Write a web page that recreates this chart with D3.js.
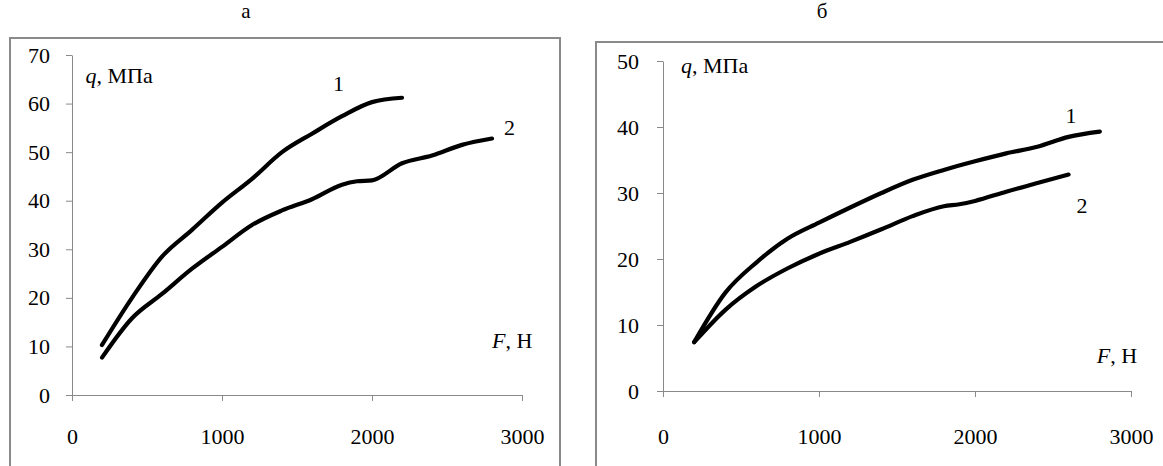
<!DOCTYPE html>
<html><head><meta charset="utf-8">
<script src="https://cdn.jsdelivr.net/npm/d3@7"></script>
<style>body{margin:0;background:#fff}svg{display:block}text{font-family:"Liberation Serif","Times New Roman",serif;fill:#000}</style>
</head><body><svg id="c" width="1163" height="466"></svg>
<script>
const xTicks = [0, 1000, 2000, 3000];
const yTicksA = [0, 10, 20, 30, 40, 50, 60, 70];
const yTicksB = [0, 10, 20, 30, 40, 50];
const titles = ["а", "б"];

const fA1 = [200, 400, 600, 800, 1000, 1200, 1400, 1600, 1800, 2000, 2200];
const qA1 = [10.3, 20, 28.5, 34, 39.6, 44.5, 50, 53.8, 57.4, 60.3, 61.2];
const fA2 = [200, 400, 600, 800, 1000, 1200, 1400, 1600, 1800, 1900, 2000, 2200, 2400, 2600, 2800];
const qA2 = [7.7, 15.8, 20.8, 26, 30.5, 35, 38, 40.3, 43.3, 44, 44.2, 47.7, 49.3, 51.5, 52.8];
const fB1 = [200, 400, 600, 800, 1000, 1200, 1400, 1600, 1800, 2000, 2200, 2400, 2600, 2800];
const qB1 = [7.4, 14.9, 19.5, 23.1, 25.5, 27.8, 30, 32, 33.5, 34.8, 36, 37, 38.5, 39.3];
const fB2 = [200, 400, 600, 800, 1000, 1200, 1400, 1600, 1800, 1900, 2000, 2200, 2400, 2600];
const qB2 = [7.4, 12.3, 15.9, 18.6, 20.8, 22.6, 24.5, 26.5, 28, 28.3, 28.8, 30.2, 31.5, 32.8];

const svg = d3.select("#c");
const FS = 22;
const FF = '"Liberation Serif","Times New Roman",serif';

function panel(cfg) {
  const g = svg.append("g");
  g.append("rect").attr("x", cfg.box[0]).attr("y", cfg.box[1]).attr("width", cfg.box[2]).attr("height", cfg.box[3])
    .attr("fill", "none").attr("stroke", "#8a8a8a").attr("stroke-width", 2);
  g.append("text").attr("x", cfg.titleX).attr("y", 18).attr("text-anchor", "middle").attr("font-size", FS - 1).text(cfg.title);
  const x = d3.scaleLinear().domain([0, 3000]).range(cfg.xr);
  const y = d3.scaleLinear().domain([0, cfg.ymax]).range(cfg.yr);
  const xa = g.append("g").attr("transform", `translate(0,${cfg.yr[0]})`)
    .call(d3.axisBottom(x).tickValues(xTicks).tickSize(6).tickSizeOuter(0).tickPadding(cfg.xPad).tickFormat(d3.format("d")));
  const ya = g.append("g").attr("transform", `translate(${cfg.xr[0]},0)`)
    .call(d3.axisLeft(y).tickValues(cfg.yTicks).tickSize(6).tickSizeOuter(0).tickPadding(cfg.yPad).tickFormat(d3.format("d")));
  [xa, ya].forEach(a => {
    a.attr("font-size", FS).attr("font-family", FF);
    a.selectAll("path,line").attr("stroke", "#8a8a8a");
    a.selectAll("text").attr("fill", "#000");
  });
  const line = d3.line().x(d => x(d[0])).y(d => y(d[1])).curve(d3.curveMonotoneX);
  cfg.series.forEach(s => {
    g.append("path").datum(d3.zip(s[0], s[1])).attr("d", line)
      .attr("fill", "none").attr("stroke", "#000").attr("stroke-width", 4.2).attr("stroke-linecap", "round").attr("stroke-linejoin", "round");
  });
  cfg.labels.forEach(l => {
    g.append("text").attr("x", x(l[0])).attr("y", y(l[1])).attr("font-size", FS).text(l[2]);
  });
  const q = g.append("text").attr("x", x(cfg.qPos[0])).attr("y", y(cfg.qPos[1])).attr("font-size", FS);
  q.append("tspan").attr("font-style", "italic").text("q");
  q.append("tspan").text(", МПа");
  const f = g.append("text").attr("x", x(cfg.fPos[0])).attr("y", y(cfg.fPos[1])).attr("font-size", FS);
  f.append("tspan").attr("font-style", "italic").text("F");
  f.append("tspan").text(", Н");
}

panel({
  box: [10, 38, 550, 440], title: titles[0], titleX: 246,
  xr: [72, 522], yr: [395, 55], ymax: 70, yTicks: yTicksA, xPad: 27, yPad: 16,
  series: [[fA1, qA1], [fA2, qA2]],
  labels: [[1740, 62.5, "1"], [2880, 53.5, "2"]],
  qPos: [90, 64.3], fPos: [2800, 9.6]
});
panel({
  box: [596, 42, 600, 440], title: titles[1], titleX: 822,
  xr: [663, 1131], yr: [391, 61], ymax: 50, yTicks: yTicksB, xPad: 31, yPad: 18,
  series: [[fB1, qB1], [fB2, qB2]],
  labels: [[2580, 40.6, "1"], [2650, 27, "2"]],
  qPos: [115, 48.2], fPos: [2780, 4.2]
});
</script></body></html>
